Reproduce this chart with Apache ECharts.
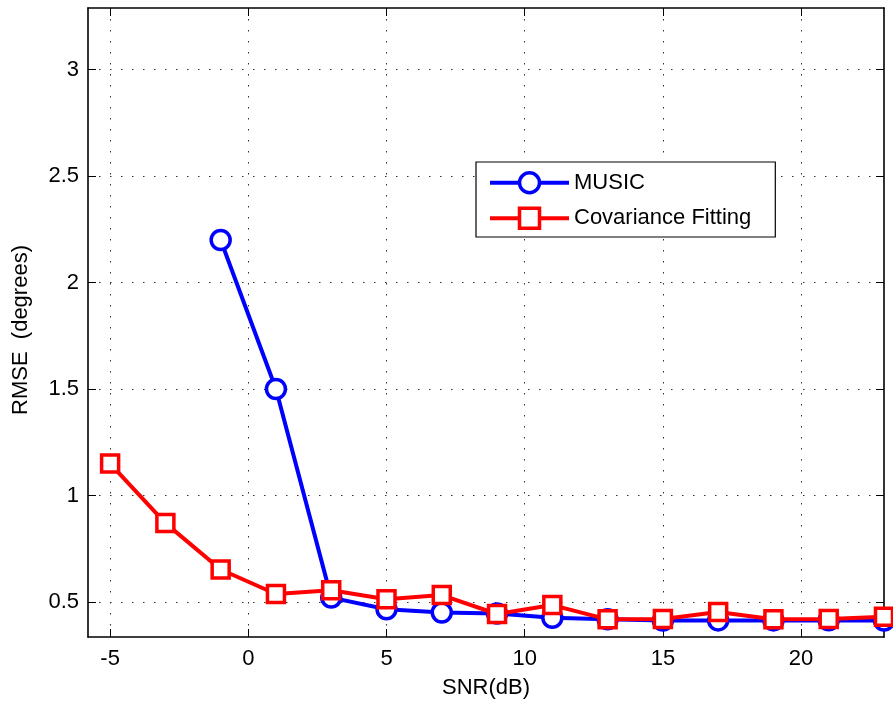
<!DOCTYPE html>
<html>
<head>
<meta charset="utf-8">
<script src="https://cdn.jsdelivr.net/npm/echarts@6/dist/echarts.min.js"></script>
<style>
  html, body { margin: 0; padding: 0; background: #fff; }
  #chart { width: 893px; height: 704px; }
</style>
</head>
<body>
<div id="chart"></div>
<script>
// SNR values (dB)
const snr = [-5, -3, -1, 1, 3, 5, 7, 9, 11, 13, 15, 17, 19, 21, 23];
// RMSE (degrees); MUSIC has no points below -1 dB
const music = [null, null, 2.2, 1.5, 0.52, 0.465, 0.45, 0.445, 0.425, 0.418, 0.412, 0.413, 0.413, 0.414, 0.412];
const covFit = [1.15, 0.87, 0.652, 0.537, 0.555, 0.512, 0.532, 0.443, 0.485, 0.418, 0.42, 0.452, 0.418, 0.42, 0.43];

const xTicks = [-5, 0, 5, 10, 15, 20];
const yTicks = [0.5, 1, 1.5, 2, 2.5, 3];

const FONT = '"Liberation Sans", Arial, sans-serif';

const pairs = vals => snr.map((x, i) => [x, vals[i]]).filter(p => p[1] !== null);

const chart = echarts.init(document.getElementById('chart'), null, { renderer: 'canvas' });

const gridDots = { show: true, lineStyle: { color: '#333', width: 1, type: [1.5, 9.5] } };
const frame = { show: true, onZero: false, lineStyle: { color: '#000', width: 1.6 } };

chart.setOption({
  animation: false,
  backgroundColor: '#fff',
  textStyle: { fontFamily: FONT },
  grid: { left: 88, right: 9, top: 8, bottom: 67, containLabel: false },
  legend: {
    left: 476,
    top: 162,
    orient: 'vertical',
    backgroundColor: '#fff',
    borderColor: '#000',
    borderWidth: 1.2,
    borderRadius: 0,
    padding: [9, 24, 7, 12],
    itemGap: 12,
    itemWidth: 79,
    itemHeight: 25,
    lineStyle: { width: 4 },
    itemStyle: { borderWidth: 3.5 },
    textStyle: { fontFamily: FONT, fontSize: 22, color: '#000' },
    data: ['MUSIC', 'Covariance Fitting']
  },
  xAxis: [{
    type: 'value',
    min: -5.8,
    max: 23,
    name: 'SNR(dB)',
    nameLocation: 'middle',
    nameGap: 40,
    nameTextStyle: { fontSize: 22, color: '#000', fontFamily: FONT },
    axisLine: frame,
    axisTick: { show: true, inside: true, length: 8, customValues: xTicks, lineStyle: { color: '#000' } },
    axisLabel: { customValues: xTicks, fontSize: 22, color: '#000', margin: 11, fontFamily: FONT },
    splitLine: gridDots
  }, {
    type: 'value',
    position: 'top',
    min: -5.8,
    max: 23,
    axisLine: frame,
    axisTick: { show: true, inside: true, length: 8, customValues: xTicks, lineStyle: { color: '#000' } },
    axisLabel: { show: false },
    splitLine: { show: false }
  }],
  yAxis: [{
    type: 'value',
    min: 0.335,
    max: 3.29,
    name: 'RMSE  (degrees)',
    nameLocation: 'middle',
    nameGap: 56,
    nameTextStyle: { fontSize: 22, color: '#000', fontFamily: FONT, padding: [0, 15, 0, 0] },
    axisLine: frame,
    axisTick: { show: true, inside: true, length: 8, customValues: yTicks, lineStyle: { color: '#000' } },
    axisLabel: { customValues: yTicks, fontSize: 22, color: '#000', margin: 9, fontFamily: FONT },
    splitLine: gridDots
  }, {
    type: 'value',
    position: 'right',
    min: 0.335,
    max: 3.29,
    axisLine: frame,
    axisTick: { show: true, inside: true, length: 8, customValues: yTicks, lineStyle: { color: '#000' } },
    axisLabel: { show: false },
    splitLine: { show: false }
  }],
  series: [{
    name: 'MUSIC',
    type: 'line',
    data: pairs(music),
    symbol: 'circle',
    symbolSize: 19,
    showAllSymbol: true,
    clip: false,
    color: '#0000ff',
    lineStyle: { color: '#0000ff', width: 4 },
    itemStyle: { color: '#fff', borderColor: '#0000ff', borderWidth: 3.5 },
    z: 2
  }, {
    name: 'Covariance Fitting',
    type: 'line',
    data: pairs(covFit),
    symbol: 'rect',
    symbolSize: 17,
    showAllSymbol: true,
    clip: false,
    color: '#ff0000',
    lineStyle: { color: '#ff0000', width: 4 },
    itemStyle: { color: '#fff', borderColor: '#ff0000', borderWidth: 3.5 },
    z: 3
  }]
});
</script>
</body>
</html>
